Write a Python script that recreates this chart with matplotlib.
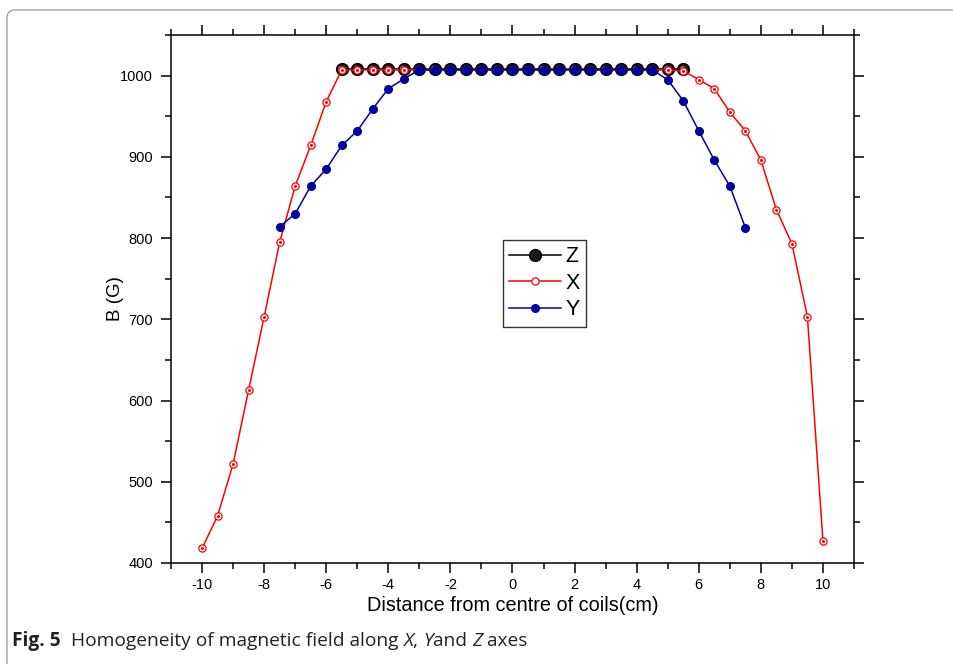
import matplotlib
matplotlib.use('Agg')
import matplotlib.pyplot as plt
from matplotlib.patches import FancyBboxPatch
from matplotlib.ticker import MultipleLocator
from matplotlib.transforms import ScaledTranslation

plt.rcParams['font.family'] = ['Liberation Sans', 'DejaVu Sans']
plt.rcParams['axes.unicode_minus'] = False

# X axis field (red)
x_pos = [-10, -9.5, -9, -8.5, -8, -7.5, -7, -6.5, -6, -5.5, -5, -4.5, -4, -3.5, -3,
         -2.5, -2, -1.5, -1, -0.5, 0, 0.5, 1, 1.5, 2, 2.5, 3, 3.5, 4, 4.5, 5, 5.5,
         6, 6.5, 7, 7.5, 8, 8.5, 9, 9.5, 10]
x_field = [418, 458, 522, 613, 703, 795, 864, 914, 968, 1007, 1007, 1007, 1007, 1007, 1007,
           1007, 1007, 1007, 1007, 1007, 1007, 1007, 1007, 1007, 1007, 1007, 1007, 1007, 1007,
           1007, 1007, 1006, 995, 984, 955, 932, 896, 835, 793, 703, 427]

# Y axis field (blue)
y_pos = [-7.5, -7, -6.5, -6, -5.5, -5, -4.5, -4, -3.5, -3, -2.5, -2, -1.5, -1, -0.5, 0,
         0.5, 1, 1.5, 2, 2.5, 3, 3.5, 4, 4.5, 5, 5.5, 6, 6.5, 7, 7.5]
y_field = [814, 830, 864, 885, 914, 932, 959, 984, 996, 1007, 1007, 1007, 1007, 1007, 1007, 1007,
           1007, 1007, 1007, 1007, 1007, 1007, 1007, 1007, 1007, 995, 969, 932, 896, 864, 813]

# Z axis field (black)
z_pos = [-5.5, -5, -4.5, -4, -3.5, -3, -2.5, -2, -1.5, -1, -0.5, 0, 0.5, 1, 1.5, 2,
         2.5, 3, 3.5, 4, 4.5, 5, 5.5]
z_field = [1008] * len(z_pos)

fig = plt.figure(figsize=(9.54, 6.64), dpi=100)
ax = fig.add_axes([171 / 954, 101 / 664, 683 / 954, 528 / 664])

# figure frame
frame = FancyBboxPatch((0.07, -0.5), 10, 6.64 - 0.10 + 0.5,
                       boxstyle='round,pad=0,rounding_size=0.08',
                       transform=fig.dpi_scale_trans, fill=False,
                       edgecolor='#8c8c8c', linewidth=0.8, zorder=-5)
fig.patches.append(frame)

ax.plot(z_pos, z_field, color='black', linewidth=1.1, marker='o', markersize=8.5,
        markerfacecolor='#1a1a1a', markeredgecolor='black', zorder=2, label='Z')
shift = ScaledTranslation(-1.0 / 72, 1.0 / 72, fig.dpi_scale_trans)
ax.plot(z_pos, z_field, linestyle='none', marker='o', markersize=3.2,
        markerfacecolor='#9a9a9a', markeredgecolor='none',
        transform=ax.transData + shift, zorder=2.1)

ax.plot(x_pos, x_field, color='#ff0000', linewidth=1.1, marker='o', markersize=5.2,
        markerfacecolor='white', markeredgecolor='#ff0000', markeredgewidth=0.9,
        zorder=3, label='X')
ax.plot(x_pos, x_field, linestyle='none', marker='o', markersize=1.2,
        color='#ff0000', zorder=3.1)

ax.plot(y_pos, y_field, color='#0000a0', linewidth=1.1, marker='o', markersize=5.5,
        markerfacecolor='#0000a0', markeredgecolor='#0000a0', zorder=4, label='Y')

ax.set_xlim(-11, 11)
ax.set_ylim(400, 1050)
ax.xaxis.set_major_locator(MultipleLocator(2))
ax.xaxis.set_minor_locator(MultipleLocator(1))
ax.yaxis.set_major_locator(MultipleLocator(100))
ax.yaxis.set_minor_locator(MultipleLocator(50))
ax.tick_params(which='both', direction='out', top=True, right=True, width=1.1,
               labelsize=10.5, colors='black')
ax.tick_params(which='major', length=7)
ax.tick_params(which='minor', length=4)
ax.tick_params(axis='y', which='major', pad=6)
ax.tick_params(axis='x', which='major', pad=4)
for sp in ax.spines.values():
    sp.set_linewidth(1.1)

ax.set_xlabel('Distance from centre of coils(cm)', fontsize=14.3, labelpad=3)
ax.set_ylabel('B (G)', fontsize=13.5, labelpad=-3)

leg = ax.legend(loc='upper left', bbox_to_anchor=(0.486, 0.612), fontsize=15.5,
                frameon=True, fancybox=False, edgecolor='black', handlelength=2.4,
                handletextpad=0.2, borderpad=0.3, labelspacing=0.25, borderaxespad=0)
leg.get_frame().set_linewidth(1.0)

# caption with mixed styles
fig.canvas.draw()
renderer = fig.canvas.get_renderer()
parts = [('Fig. 5', 'bold', 'normal'), ('  Homogeneity of magnetic field along ', 'normal', 'normal'),
         ('X', 'normal', 'italic'), (', ', 'normal', 'normal'), ('Y', 'normal', 'italic'),
         ('and ', 'normal', 'normal'), ('Z', 'normal', 'italic'), (' axes', 'normal', 'normal')]
xpix = 12
for txt, weight, style in parts:
    t = fig.text(xpix / 954, 1 - 646 / 664, txt, fontsize=13.8, fontweight=weight,
                 fontstyle=style, va='baseline', ha='left', color='#222222',
                 family=['Open Sans', 'DejaVu Sans'])
    xpix = t.get_window_extent(renderer).x1

fig.savefig('out.png', dpi=100)
